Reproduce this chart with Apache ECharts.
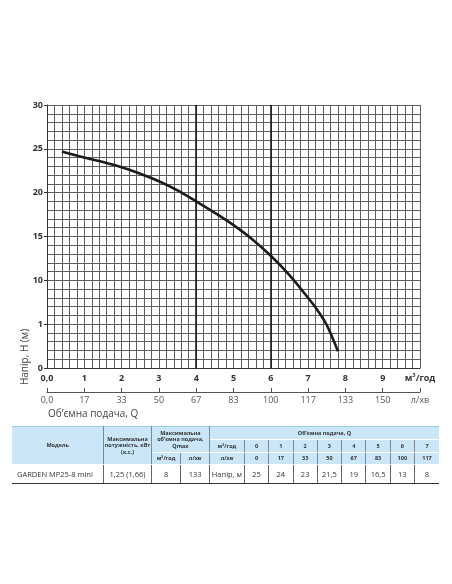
<!DOCTYPE html>
<html>
<head>
<meta charset="utf-8">
<script src="https://cdn.jsdelivr.net/npm/echarts/dist/echarts.min.js"></script>
<style>
  html, body { margin: 0; padding: 0; background: #fff; }
  #chart { position: absolute; left: 0; top: 0; width: 452px; height: 584px; }
  #tbl { position: absolute; left: 12px; top: 426px; border-collapse: collapse; table-layout: fixed; width: 427px;
         font-family: "Open Sans", "Noto Sans", sans-serif; color: #333; }
  #tbl th { background: #cbe6f6; font-size: 5.5px; font-weight: bold; line-height: 1.15; padding: 0; text-align: center;
            border-left: 1px solid #7d8a92; border-right: 1px solid #7d8a92; border-top: 1px solid #ffffff; border-bottom: 1px solid #ffffff; }
  #tbl tr.top th { border-top: 1px solid #9ccbe6; }
  #tbl th.first { border-left: none; }
  #tbl th.last { border-right: none; }
  #tbl td { font-size: 7.5px; padding: 0; text-align: center; border-left: 1px solid #666; border-right: 1px solid #666;
            border-bottom: 1px solid #333; height: 18px; }
  #tbl td.first { border-left: none; text-align: left; padding-left: 5px; }
  #tbl td.last { border-right: none; }
</style>
</head>
<body>
<div id="chart"></div>
<table id="tbl"></table>
<script>
// ---------- chart data ----------
const flowM3h = [0.4, 1, 1.5, 2, 2.5, 3, 3.5, 4, 4.5, 5, 5.5, 6, 6.5, 7, 7.25, 7.5, 7.8];
const headM   = [24.7, 24.0, 23.5, 22.9, 22.15, 21.3, 20.25, 19.0, 17.7, 16.3, 14.7, 12.8, 10.6, 8.0, 6.6, 4.9, 1.9];
const xTickLabels   = ['0,0', '1', '2', '3', '4', '5', '6', '7', '8', '9', 'м³/год'];
const lpmTickLabels = ['0,0', '17', '33', '50', '67', '83', '100', '117', '133', '150', 'л/хв'];
const yTickValues = [0, 5, 10, 15, 20, 25, 30];
const yTickLabels = ['0', '1', '10', '15', '20', '25', '30'];
const highlightX = [4, 6];
const yAxisName = 'Напір, Н (м)';
const xAxisName = 'Об’ємна подача, Q';

// ---------- table data ----------
const tableQm3  = ['0', '1', '2', '3', '4', '5', '6', '7'];
const tableQlpm = ['0', '17', '33', '50', '67', '83', '100', '117'];
const tableHead = ['25', '24', '23', '21,5', '19', '16,5', '13', '8'];
const modelName = 'GARDEN MP25-8 mini';
const powerKw = '1,25 (1,66)';
const qmaxM3 = '8';
const qmaxLpm = '133';

const FONT = '"Open Sans", "Noto Sans", sans-serif';

const chart = echarts.init(document.getElementById('chart'), null, { renderer: 'canvas' });
const gridColor = '#5e5e5e';

chart.setOption({
  animation: false,
  backgroundColor: '#fff',
  grid: { left: 47, top: 105, width: 373, height: 263, show: false },
  xAxis: [
    {
      type: 'value', min: 0, max: 10, interval: 1, position: 'bottom',
      axisLine: { show: true, lineStyle: { color: '#333', width: 1 } },
      axisTick: { show: false },
      minorTick: { show: false, splitNumber: 5 },
      axisLabel: { formatter: v => xTickLabels[Math.round(v)], fontFamily: FONT, fontWeight: 'bold',
                   fontSize: 9, color: '#333', margin: 6, showMinLabel: true, showMaxLabel: true },
      splitLine: { show: true, lineStyle: { color: gridColor, width: 1 } },
      minorSplitLine: { show: true, lineStyle: { color: gridColor, width: 1 } }
    },
    {
      type: 'value', min: 0, max: 10, interval: 1, position: 'bottom', offset: 24,
      axisLine: { show: true, lineStyle: { color: '#555', width: 1 } },
      axisTick: { show: true, inside: true, length: 4, lineStyle: { color: '#555' } },
      axisLabel: { formatter: v => lpmTickLabels[Math.round(v)], fontFamily: FONT,
                   fontSize: 9, color: '#555', margin: 4, showMinLabel: true, showMaxLabel: true },
      splitLine: { show: false }
    }
  ],
  yAxis: {
    type: 'value', min: 0, max: 30, interval: 5,
    axisLine: { show: true, lineStyle: { color: '#333', width: 1 } },
    axisTick: { show: true, length: 3, lineStyle: { color: '#333' } },
    minorTick: { show: false, splitNumber: 5 },
    axisLabel: { formatter: v => yTickLabels[yTickValues.indexOf(Math.round(v))], fontFamily: FONT,
                 fontWeight: 'bold', fontSize: 9, color: '#333', margin: 4 },
    splitLine: { show: true, lineStyle: { color: gridColor, width: 1 } },
    minorSplitLine: { show: true, lineStyle: { color: gridColor, width: 1 } }
  },
  series: [{
    type: 'line', xAxisIndex: 0, smooth: 0.35, showSymbol: false, silent: true,
    data: flowM3h.map((q, i) => [q, headM[i]]),
    lineStyle: { color: '#1c1c1c', width: 2.6 },
    markLine: {
      silent: true, symbol: 'none', label: { show: false },
      lineStyle: { color: '#111', width: 1.5, type: 'solid' },
      data: highlightX.map(v => ({ xAxis: v }))
    }
  }],
  graphic: [
    { type: 'text', x: 25, y: 357, rotation: Math.PI / 2,
      style: { text: yAxisName, fill: '#444', font: '10px ' + FONT, align: 'center', verticalAlign: 'middle' } },
    { type: 'text', x: 48, y: 414,
      style: { text: xAxisName, fill: '#444', font: '10px ' + FONT, align: 'left', verticalAlign: 'middle' } }
  ]
});

// ---------- table ----------
const colW = [91.7, 47.7, 29.3, 28.7, 35].concat(tableQm3.map(() => 24.3));
let html = '<colgroup>' + colW.map(w => `<col style="width:${w}px">`).join('') + '</colgroup>';
html += '<tr class="top" style="height:13px">' +
  '<th class="first" rowspan="3">Модель</th>' +
  '<th rowspan="3">Максимальна<br>потужність, кВт<br>(к.с.)</th>' +
  '<th colspan="2" rowspan="2">Максимальна<br>об’ємна подача,<br>Qmax</th>' +
  `<th class="last" colspan="${tableQm3.length + 1}">Об’ємна подача, Q</th></tr>`;
html += '<tr style="height:12.7px"><th>м³/год</th>' +
  tableQm3.map((v, i) => `<th${i === tableQm3.length - 1 ? ' class="last"' : ''}>${v}</th>`).join('') + '</tr>';
html += '<tr style="height:12.6px"><th>м³/год</th><th>л/хв</th><th>л/хв</th>' +
  tableQlpm.map((v, i) => `<th${i === tableQlpm.length - 1 ? ' class="last"' : ''}>${v}</th>`).join('') + '</tr>';
html += `<tr><td class="first">${modelName}</td><td>${powerKw}</td><td>${qmaxM3}</td><td>${qmaxLpm}</td><td>Напір, м</td>` +
  tableHead.map((v, i) => `<td${i === tableHead.length - 1 ? ' class="last"' : ''}>${v}</td>`).join('') + '</tr>';
document.getElementById('tbl').innerHTML = html;
</script>
</body>
</html>
